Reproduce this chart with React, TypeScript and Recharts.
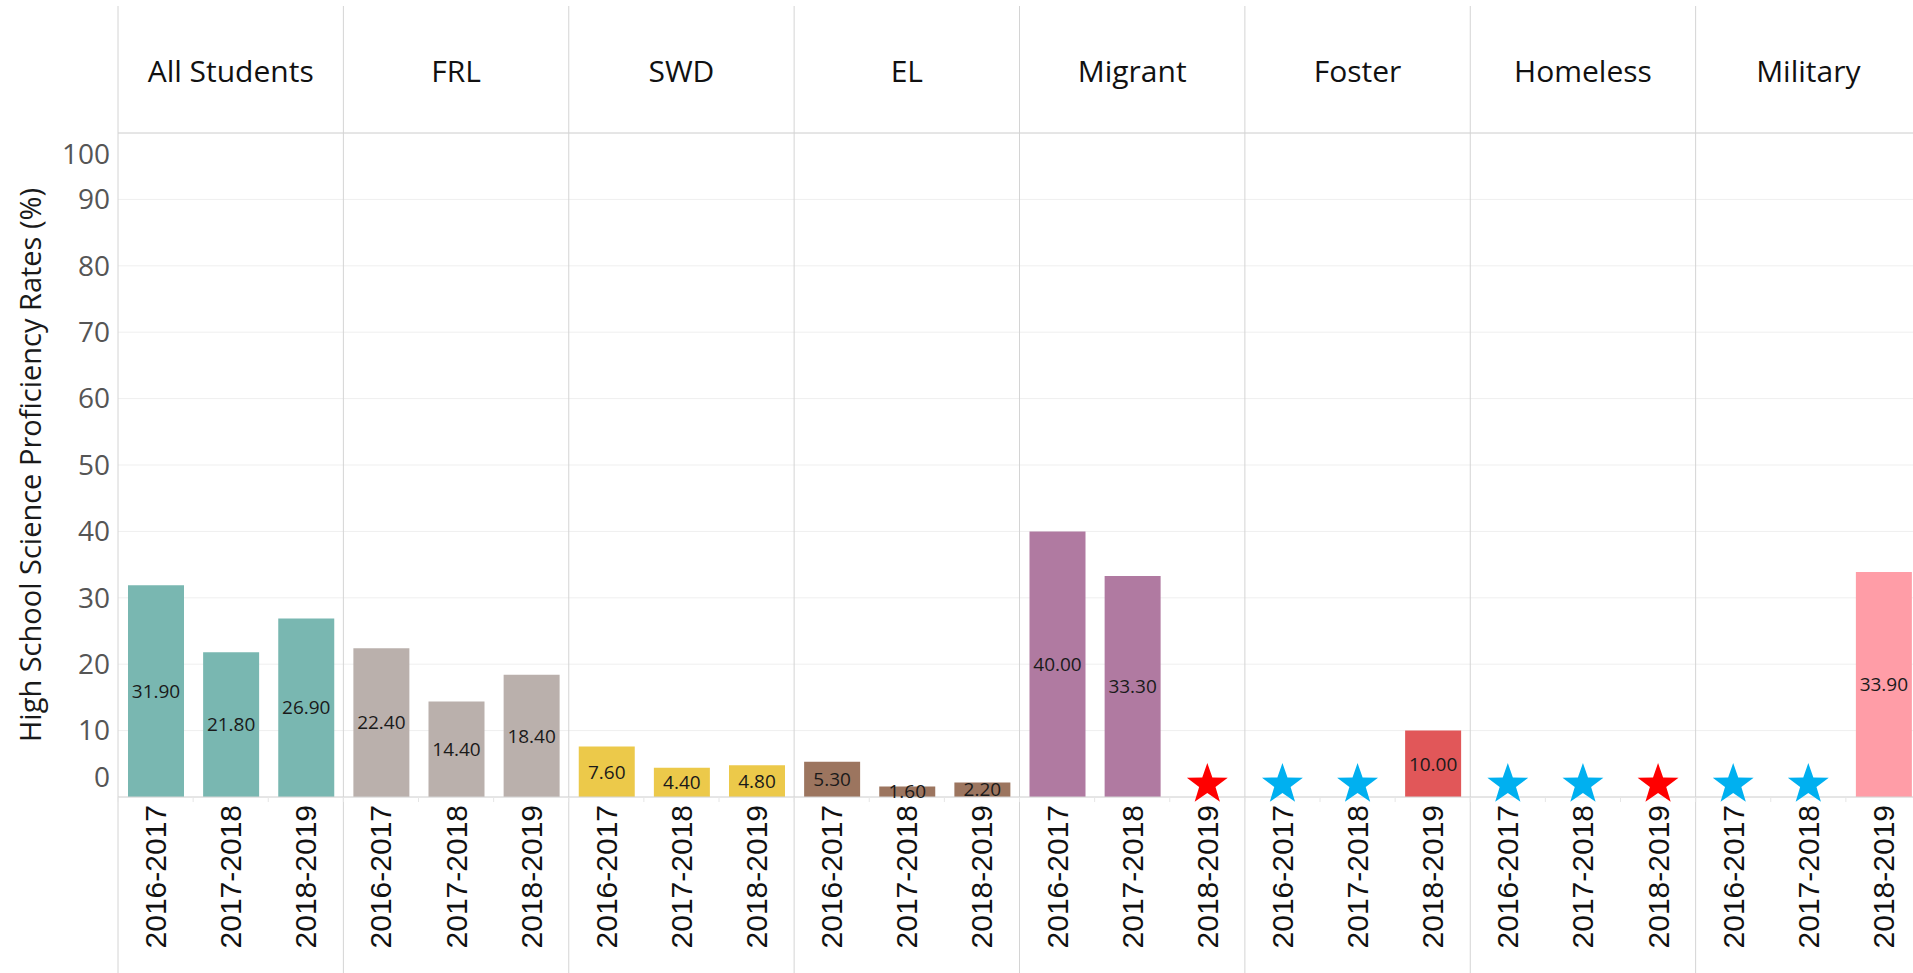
import React from "react";
import { ComposedChart, Bar, Line, XAxis, YAxis, CartesianGrid, Cell, LabelList } from "recharts";

const groups = ["All Students", "FRL", "SWD", "EL", "Migrant", "Foster", "Homeless", "Military"];
const years = ["2016-2017", "2017-2018", "2018-2019"];
const groupColors = ["#79B7B1", "#BAB0AC", "#ECC94A", "#9C755F", "#B07AA1", "#E15759", "#F28E2B", "#FF9DA7"];

// proficiency rate per group, one entry per school year (null = no bar)
const rates: (number | null)[][] = [
  [31.9, 21.8, 26.9],
  [22.4, 14.4, 18.4],
  [7.6, 4.4, 4.8],
  [5.3, 1.6, 2.2],
  [40.0, 33.3, null],
  [null, null, 10.0],
  [null, null, null],
  [null, null, 33.9],
];

// star markers where data is suppressed
const stars: (string | null)[][] = [
  [null, null, null],
  [null, null, null],
  [null, null, null],
  [null, null, null],
  [null, null, "red"],
  ["blue", "blue", null],
  ["blue", "blue", "red"],
  ["blue", "blue", null],
];
const starColors: Record<string, string> = { blue: "#00B0F0", red: "#FF0000" };
const starLevel = 1.9;

const yTicks = [0, 10, 20, 30, 40, 50, 60, 70, 80, 90, 100];

const data = groups.flatMap((g, gi) =>
  years.map((yr, yi) => ({
    key: `${g}|${yr}`,
    group: g,
    gi,
    yi,
    rate: rates[gi][yi],
    star: stars[gi][yi] ? starLevel : null,
    starColor: stars[gi][yi] ? starColors[stars[gi][yi] as string] : "none",
  }))
);

const FONT = "'Open Sans', 'Noto Sans', sans-serif";
const GRID = "#d4d4d4";

function HeaderTick(props: any) {
  const { x, payload } = props;
  const [group, yr] = String(payload.value).split("|");
  const half = payload.offset ?? 37.5;
  const yi = years.indexOf(yr);
  return (
    <g>
      {yi === 0 && <line x1={x - half} x2={x - half} y1={6} y2={973} stroke={GRID} strokeWidth={1} />}
      {yi === 1 && (
        <text x={x} y={70} textAnchor="middle" dominantBaseline="central" fontFamily={FONT} fontSize={30} fill="#111">
          {group}
        </text>
      )}
    </g>
  );
}

function YearTick(props: any) {
  const { x, y, payload } = props;
  const yr = String(payload.value).split("|")[1];
  const half = payload.offset ?? 37.5;
  return (
    <g>
      <line x1={x - half} x2={x - half} y1={y - 8} y2={y - 3} stroke="#e6e6e6" />
      <text
        x={x}
        y={y}
        dy="0.35em"
        transform={`rotate(-90, ${x}, ${y})`}
        textAnchor="end"
        fontFamily="'Liberation Sans', Arial, sans-serif"
        fontSize={30}
        fill="#111"
      >
        {yr}
      </text>
    </g>
  );
}

function ValueTick(props: any) {
  const { x, y, payload } = props;
  // tableau pulls the edge labels inside the pane
  const shift = payload.value === 100 ? 21 : payload.value === 0 ? -20 : 0;
  return (
    <text x={x} y={y + shift} dy="0.35em" textAnchor="end" fontFamily={FONT} fontSize={28} fill="#555">
      {payload.value}
    </text>
  );
}

function renderStar(p: any) {
  const { cx, cy, payload, index } = p;
  if (payload == null || payload.star == null || cy == null) return <g key={`s${index}`} />;
  const R = 21.5;
  const r = R * 0.4;
  const pts: string[] = [];
  for (let i = 0; i < 10; i++) {
    const a = -Math.PI / 2 + (i * Math.PI) / 5;
    const rad = i % 2 === 0 ? R : r;
    pts.push(`${cx + rad * Math.cos(a)},${cy + rad * Math.sin(a)}`);
  }
  return <polygon key={`s${index}`} points={pts.join(" ")} fill={payload.starColor} />;
}

export default function App() {
  return (
    <div style={{ position: "absolute", left: 0, top: 0, width: 1913, height: 973, overflow: "hidden", background: "#fff" }}>
      <ComposedChart width={1922} height={973} data={data} margin={{ top: 6, right: 1, bottom: 0, left: 0 }}>
        <CartesianGrid xAxisId="bottom" vertical={false} stroke="#efefef" />
        <XAxis
          xAxisId="top"
          orientation="top"
          dataKey="key"
          height={127}
          interval={0}
          axisLine={{ stroke: GRID }}
          tickLine={false}
          tick={<HeaderTick />}
        />
        <XAxis
          xAxisId="bottom"
          dataKey="key"
          height={176}
          interval={0}
          axisLine={{ stroke: GRID }}
          tickLine={false}
          tick={<YearTick />}
        />
        <YAxis
          domain={[0, 100]}
          ticks={yTicks}
          interval={0}
          width={118}
          axisLine={false}
          tickLine={false}
          tick={<ValueTick />}
          label={{
            content: ({ viewBox }: any) => {
              const cy = viewBox.y + viewBox.height / 2;
              return (
                <text
                  x={41}
                  y={cy}
                  transform={`rotate(-90, 41, ${cy})`}
                  textAnchor="middle"
                  fontFamily={FONT}
                  fontSize={29}
                  fill="#1a1a1a"
                >
                  High School Science Proficiency Rates (%)
                </text>
              );
            },
          }}
        />
        <Bar xAxisId="bottom" dataKey="rate" barSize={56} isAnimationActive={false}>
          {data.map((d) => (
            <Cell key={d.key} fill={groupColors[d.gi]} />
          ))}
          <LabelList
            dataKey="rate"
            position="center"
            formatter={(v: any) => (v == null ? "" : Number(v).toFixed(2))}
            fill="#1a1a1a"
            fontSize={19}
            fontFamily={FONT}
          />
        </Bar>
        <Line
          xAxisId="bottom"
          dataKey="star"
          stroke="none"
          dot={renderStar}
          activeDot={false}
          legendType="none"
          isAnimationActive={false}
        />
      </ComposedChart>
    </div>
  );
}
